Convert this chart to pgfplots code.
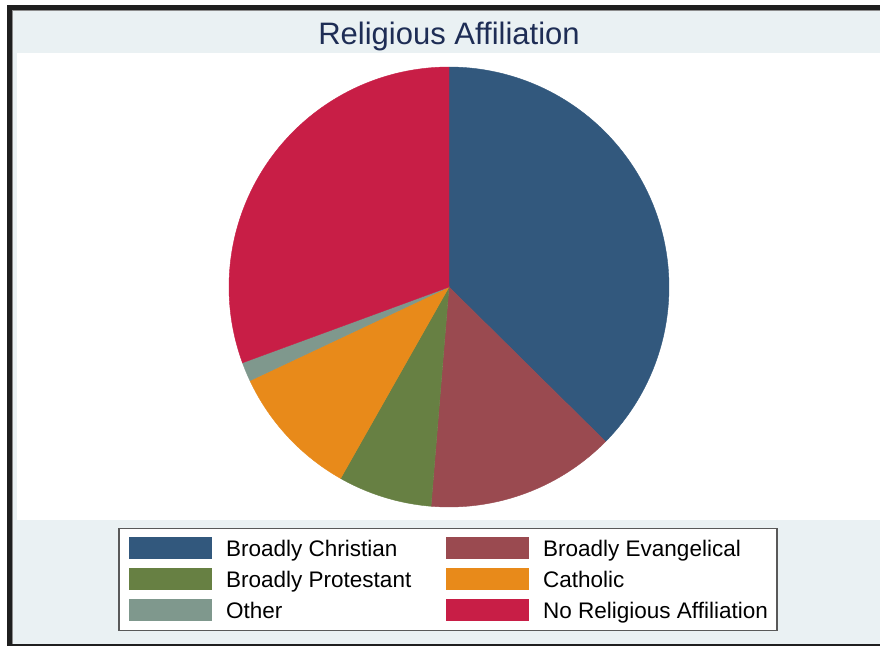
\documentclass[border=0pt]{standalone}
\usepackage{pgfplots}
\pgfplotsset{compat=1.18}
\usepackage{pgfplotstable}
\usepackage{fontspec}
\setmainfont{Liberation Sans}
\definecolor{cA}{RGB}{50,88,125}
\definecolor{cB}{RGB}{154,74,80}
\definecolor{cC}{RGB}{103,128,67}
\definecolor{cD}{RGB}{232,138,26}
\definecolor{cE}{RGB}{127,152,141}
\definecolor{cF}{RGB}{200,30,70}
\definecolor{bgc}{RGB}{234,241,243}
\definecolor{titlec}{RGB}{30,45,85}
\pgfplotstableread[col sep=comma]{
name,share
Broadly Christian,37.4
Broadly Evangelical,13.9
Broadly Protestant,6.9
Catholic,9.8
Other,1.4
No Religious Affiliation,30.6
}\piedata
\begin{document}
\gdef\cumul{0}%
\foreach \i/\n in {0/A,1/B,2/C,3/D,4/E,5/F}{%
  \pgfplotstablegetelem{\i}{share}\of\piedata
  \pgfmathsetmacro\sa{90-3.6*\cumul}%
  \pgfmathsetmacro\nc{\cumul+\pgfplotsretval}%
  \pgfmathsetmacro\sb{90-3.6*\nc}%
  \expandafter\xdef\csname start\n\endcsname{\sa}%
  \expandafter\xdef\csname stop\n\endcsname{\sb}%
  \xdef\cumul{\nc}%
}%
\begin{tikzpicture}
\begin{axis}[x=1pt,y=1pt,xmin=0,xmax=880,ymin=0,ymax=646,
  scale only axis, hide axis, clip=false]
% background and frame
\fill[white] (0,0) rectangle (880,646);
\fill[bgc] (12,2) rectangle (880,636);
\fill[black!88] (7,0) rectangle (12,641);
\fill[black!88] (7,636) rectangle (880,641);
\fill[black!88] (7,0) rectangle (880,2);
\fill[black!45] (12,635) rectangle (880,636);
\fill[black!45] (12,2) rectangle (13,635);
\fill[white] (17,126) rectangle (880,593);
% title
\node[anchor=base, inner sep=0pt, text=titlec, font=\fontsize{31}{36}\selectfont]
  at (axis cs:449,601.7) {Religious Affiliation};
% pie slices
\addplot[fill=cA, draw=cA, line width=0.4pt, domain=\stopA:\startA, samples=150, variable=\t]
  ({449+220*cos(\t)},{359+220*sin(\t)}) -- (axis cs:449,359) -- cycle;
\addplot[fill=cB, draw=cB, line width=0.4pt, domain=\stopB:\startB, samples=80, variable=\t]
  ({449+220*cos(\t)},{359+220*sin(\t)}) -- (axis cs:449,359) -- cycle;
\addplot[fill=cC, draw=cC, line width=0.4pt, domain=\stopC:\startC, samples=50, variable=\t]
  ({449+220*cos(\t)},{359+220*sin(\t)}) -- (axis cs:449,359) -- cycle;
\addplot[fill=cD, draw=cD, line width=0.4pt, domain=\stopD:\startD, samples=60, variable=\t]
  ({449+220*cos(\t)},{359+220*sin(\t)}) -- (axis cs:449,359) -- cycle;
\addplot[fill=cE, draw=cE, line width=0.4pt, domain=\stopE:\startE, samples=20, variable=\t]
  ({449+220*cos(\t)},{359+220*sin(\t)}) -- (axis cs:449,359) -- cycle;
\addplot[fill=cF, draw=cF, line width=0.4pt, domain=\stopF:\startF, samples=120, variable=\t]
  ({449+220*cos(\t)},{359+220*sin(\t)}) -- (axis cs:449,359) -- cycle;
% legend
\filldraw[fill=white, draw=black!65, line width=1.5pt] (119,15.5) rectangle (777,117.5);
\fill[cA] (129,87) rectangle (212,109);
\fill[cC] (129,56) rectangle (212,78);
\fill[cE] (129,25) rectangle (212,47);
\fill[cB] (446,87) rectangle (529,109);
\fill[cD] (446,56) rectangle (529,78);
\fill[cF] (446,25) rectangle (529,47);
\begin{scope}[every node/.style={anchor=base west, inner sep=0pt, font=\fontsize{22.5}{26}\selectfont}]
\node at (axis cs:226,90) {Broadly Christian};
\node at (axis cs:226,59) {Broadly Protestant};
\node at (axis cs:226,28) {Other};
\node at (axis cs:543,90) {Broadly Evangelical};
\node at (axis cs:543,59) {Catholic};
\node at (axis cs:543,28) {No Religious Affiliation};
\end{scope}
\end{axis}
\end{tikzpicture}
\end{document}
